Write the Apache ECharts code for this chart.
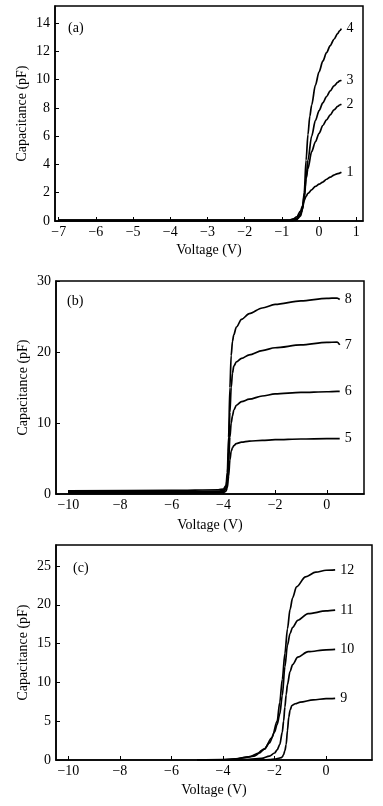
<!DOCTYPE html>
<html><head><meta charset="utf-8">
<script src="https://cdn.jsdelivr.net/npm/echarts@6/dist/echarts.min.js"></script>
<style>html,body{margin:0;padding:0;background:#fff}#c{width:383px;height:806px}</style>
</head><body><div id="c"></div>
<script>
// Panel (a)
const a1V = [-7, -3, -0.8, -0.7, -0.6, -0.5, -0.45, -0.4, -0.35, -0.3, -0.2, -0.1, 0, 0.1, 0.2, 0.3, 0.4, 0.5, 0.6];
const a1C = [0.05, 0.05, 0.05, 0.15, 0.3, 0.7, 1.05, 1.45, 1.75, 1.95, 2.2, 2.45, 2.6, 2.75, 2.95, 3.1, 3.25, 3.35, 3.45];
const a2V = [-7, -3, -0.7, -0.6, -0.5, -0.45, -0.4, -0.35, -0.3, -0.2, -0.1, 0, 0.1, 0.2, 0.3, 0.4, 0.5, 0.55, 0.6];
const a2C = [0.05, 0.05, 0.05, 0.2, 0.5, 0.9, 1.8, 3.0, 3.7, 4.9, 5.6, 6.2, 6.75, 7.15, 7.5, 7.85, 8.1, 8.2, 8.25];
const a3V = [-7, -3, -0.7, -0.6, -0.55, -0.5, -0.45, -0.4, -0.35, -0.3, -0.2, -0.1, 0, 0.1, 0.2, 0.3, 0.4, 0.5, 0.55, 0.6];
const a3C = [0.05, 0.05, 0.05, 0.1, 0.3, 0.5, 0.8, 1.5, 3.0, 4.3, 6.0, 7.1, 7.8, 8.35, 8.8, 9.2, 9.55, 9.8, 9.9, 9.95];
const a4V = [-7, -3, -0.7, -0.6, -0.5, -0.45, -0.4, -0.35, -0.3, -0.25, -0.2, -0.1, 0, 0.1, 0.2, 0.3, 0.4, 0.5, 0.55, 0.6];
const a4C = [0.05, 0.05, 0.05, 0.1, 0.35, 0.8, 2.0, 4.3, 6.1, 7.4, 8.2, 9.6, 10.55, 11.3, 11.9, 12.4, 12.85, 13.25, 13.45, 13.6];
// Panel (b)
const bV  = [-10, -6, -4.2, -4, -3.9, -3.85, -3.8, -3.75, -3.7, -3.65, -3.6, -3.5, -3.3, -3, -2.5, -2, -1, 0, 0.4, 0.5];
const b5C = [0.1, 0.1, 0.15, 0.2, 0.4, 0.9, 2.5, 4.8, 6.0, 6.5, 6.8, 7.1, 7.3, 7.45, 7.55, 7.65, 7.75, 7.8, 7.8, 7.8];
const b6C = [0.2, 0.2, 0.25, 0.35, 0.7, 1.8, 4.5, 8.0, 10.0, 11.0, 11.8, 12.5, 13.0, 13.35, 13.8, 14.1, 14.3, 14.4, 14.45, 14.45];
const b7C = [0.3, 0.3, 0.4, 0.5, 0.9, 2.2, 6.0, 11.5, 15.0, 17.0, 18.0, 18.6, 19.1, 19.6, 20.2, 20.6, 21.0, 21.35, 21.4, 21.0];
const b8C = [0.45, 0.5, 0.6, 0.7, 1.2, 3.0, 8.0, 15.0, 19.5, 21.5, 22.4, 23.5, 24.6, 25.4, 26.2, 26.7, 27.2, 27.55, 27.6, 27.4];
// Panel (c)
const c9V  = [-5, -3, -2.5, -2.2, -2, -1.85, -1.75, -1.7, -1.65, -1.6, -1.55, -1.5, -1.45, -1.4, -1.33, -1.2, -1, -0.5, 0, 0.35];
const c9C  = [0, 0, 0.02, 0.05, 0.1, 0.2, 0.3, 0.4, 0.7, 1.2, 2.0, 3.8, 5.5, 6.4, 7.0, 7.25, 7.45, 7.75, 7.9, 7.95];
const c10V = [-5, -3.5, -3, -2.5, -2.2, -2, -1.9, -1.8, -1.7, -1.65, -1.6, -1.55, -1.5, -1.4, -1.3, -1.1, -0.7, 0, 0.35];
const c10C = [0, 0.02, 0.08, 0.2, 0.5, 0.9, 1.3, 2.0, 3.6, 5.0, 6.8, 8.4, 9.7, 11.4, 12.3, 13.25, 13.95, 14.2, 14.25];
const c11V = [-5, -4, -3.5, -3, -2.6, -2.4, -2.2, -2, -1.9, -1.8, -1.7, -1.6, -1.5, -1.4, -1.3, -1.1, -0.7, 0, 0.35];
const c11C = [0, 0.03, 0.15, 0.4, 0.9, 1.4, 2.2, 3.6, 4.6, 5.9, 8.3, 12.0, 14.8, 16.3, 17.1, 18.0, 18.85, 19.2, 19.3];
const c12V = [-5, -4, -3.5, -3.2, -2.8, -2.4, -2.1, -1.9, -1.8, -1.7, -1.6, -1.5, -1.4, -1.3, -1.15, -0.8, -0.4, 0, 0.35];
const c12C = [0, 0.05, 0.15, 0.3, 0.5, 1.4, 2.9, 5.0, 7.4, 10.4, 13.7, 16.9, 19.4, 20.9, 22.3, 23.6, 24.2, 24.45, 24.5];

const FONT = 'Liberation Serif';
const minus = v => String(v).replace('-', '\u2212');
const pair = (xs, ys) => xs.map((x, i) => [x, ys[i]]);

function xAx(gi, min, max, iv, gap) {
  return {
    type: 'value', gridIndex: gi, min, max, minInterval: iv, maxInterval: iv, splitNumber: Math.round((max - min) / iv),
    name: 'Voltage (V)', nameLocation: 'middle', nameGap: gap,
    nameTextStyle: { fontFamily: FONT, fontSize: 14, color: '#000' },
    axisLine: { onZero: false, lineStyle: { color: '#000', width: 1.5 } },
    axisTick: { inside: true, length: 4, lineStyle: { color: '#000', width: 1 } },
    splitLine: { show: false },
    axisLabel: { fontFamily: FONT, fontSize: 14, color: '#000', margin: 4, showMinLabel: false, showMaxLabel: false, formatter: minus }
  };
}
function yAx(gi, min, max, iv, gap, hideMax) {
  return {
    type: 'value', gridIndex: gi, min, max, minInterval: iv, maxInterval: iv, splitNumber: Math.round((max - min) / iv),
    name: 'Capacitance (pF)', nameLocation: 'middle', nameGap: gap, nameMoveOverlap: false,
    nameTextStyle: { fontFamily: FONT, fontSize: 14, color: '#000' },
    axisLine: { onZero: false, lineStyle: { color: '#000', width: 1.5 } },
    axisTick: { inside: true, length: 4, lineStyle: { color: '#000', width: 1 } },
    splitLine: { show: false },
    axisLabel: { fontFamily: FONT, fontSize: 14, color: '#000', margin: 5, showMaxLabel: !hideMax }
  };
}
function ser(name, gi, xs, ys) {
  return {
    type: 'line', name, xAxisIndex: gi, yAxisIndex: gi, data: pair(xs, ys),
    showSymbol: false, smooth: 0.3, smoothMonotone: 'x', silent: true,
    lineStyle: { color: '#000', width: 1.7 }, itemStyle: { color: '#000' },
    endLabel: { show: true, formatter: '{a}', distance: 5, fontFamily: FONT, fontSize: 14, color: '#000' }
  };
}
const ttl = (t, l, tp) => ({ text: t, left: l, top: tp, textStyle: { fontFamily: FONT, fontSize: 14, fontWeight: 'normal', color: '#000' } });

const chart = echarts.init(document.getElementById('c'), null, { renderer: 'canvas' });
chart.setOption({
  backgroundColor: '#fff',
  animation: false,
  title: [ttl('(a)', 63, 16), ttl('(b)', 62, 289), ttl('(c)', 68, 556)],
  grid: [
    { left: 55, top: 6, width: 308, height: 215, show: true, borderColor: '#000', borderWidth: 1.5, backgroundColor: 'transparent' },
    { left: 56, top: 281, width: 308, height: 213, show: true, borderColor: '#000', borderWidth: 1.5, backgroundColor: 'transparent' },
    { left: 56, top: 545, width: 316, height: 215, show: true, borderColor: '#000', borderWidth: 1.5, backgroundColor: 'transparent' }
  ],
  xAxis: [xAx(0, -7.1, 1.18, 1, 22), xAx(1, -10.48, 1.44, 2, 24), xAx(2, -10.48, 1.78, 2, 23)],
  yAxis: [yAx(0, 0, 15.2, 2, 26, true), yAx(1, 0, 30, 10, 26, false), yAx(2, 0, 27.7, 5, 26, true)],
  series: [
    ser('1', 0, a1V, a1C), ser('2', 0, a2V, a2C), ser('3', 0, a3V, a3C), ser('4', 0, a4V, a4C),
    ser('5', 1, bV, b5C), ser('6', 1, bV, b6C), ser('7', 1, bV, b7C), ser('8', 1, bV, b8C),
    ser('9', 2, c9V, c9C), ser('10', 2, c10V, c10C), ser('11', 2, c11V, c11C), ser('12', 2, c12V, c12C)
  ]
});
</script></body></html>
